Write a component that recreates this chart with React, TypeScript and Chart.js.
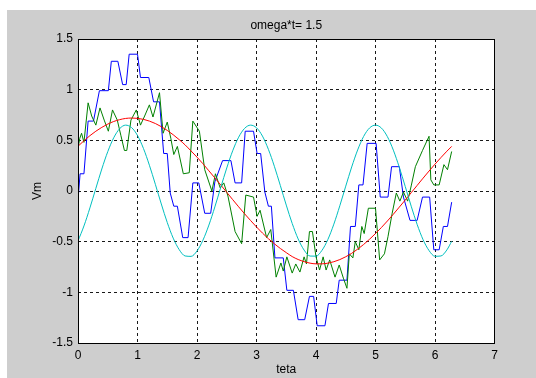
import React, { useEffect, useRef } from 'react';
import { Chart, registerables } from 'chart.js';

Chart.register(...registerables);

// ---- text ----
const titleText = 'omega*t= 1.5';
const xTitle = 'teta';
const yTitle = 'Vm';
const xTickValues = [0, 1, 2, 3, 4, 5, 6, 7];
const xTickLabels = ['0', '1', '2', '3', '4', '5', '6', '7'];
const yTickValues = [-1.5, -1, -0.5, 0, 0.5, 1, 1.5];
const yTickLabels = ['-1.5', '-1', '-0.5', '0', '0.5', '1', '1.5'];

// ---- smooth curves (theta grid) ----
const thetaFine = [
  0, 0.1, 0.2, 0.3, 0.4, 0.5, 0.6, 0.7, 0.8, 0.9,
  1.0, 1.1, 1.2, 1.3, 1.4, 1.5, 1.6, 1.7, 1.8, 1.9,
  2.0, 2.1, 2.2, 2.3, 2.4, 2.5, 2.6, 2.7, 2.8, 2.9,
  3.0, 3.1, 3.2, 3.3, 3.4, 3.5, 3.6, 3.7, 3.8, 3.9,
  4.0, 4.1, 4.2, 4.3, 4.4, 4.5, 4.6, 4.7, 4.8, 4.9,
  5.0, 5.1, 5.2, 5.3, 5.4, 5.5, 5.6, 5.7, 5.8, 5.9,
  6.0, 6.1, 6.2, 6.28,
];
const redV = [
  0.441, 0.496, 0.546, 0.590, 0.628, 0.660, 0.686, 0.704, 0.716, 0.720,
  0.717, 0.707, 0.690, 0.666, 0.635, 0.598, 0.555, 0.507, 0.455, 0.395,
  0.334, 0.269, 0.199, 0.129, 0.059, -0.013, -0.085, -0.156, -0.225, -0.291,
  -0.355, -0.415, -0.471, -0.521, -0.567, -0.608, -0.647, -0.676, -0.697, -0.712,
  -0.719, -0.719, -0.712, -0.698, -0.677, -0.649, -0.615, -0.574, -0.528, -0.476,
  -0.420, -0.360, -0.296, -0.229, -0.159, -0.089, -0.017, 0.055, 0.127, 0.197,
  0.265, 0.330, 0.393, 0.440,
];
const cyanV = [
  -0.493, -0.345, -0.167, 0.026, 0.217, 0.388, 0.525, 0.615, 0.650, 0.626,
  0.548, 0.420, 0.254, 0.066, -0.128, -0.311, -0.465, -0.578, -0.641, -0.645,
  -0.592, -0.485, -0.336, -0.157, 0.037, 0.227, 0.397, 0.531, 0.618, 0.650,
  0.624, 0.542, 0.411, 0.244, 0.055, -0.139, -0.320, -0.473, -0.583, -0.642,
  -0.643, -0.586, -0.478, -0.327, -0.146, 0.048, 0.237, 0.405, 0.538, 0.622,
  0.650, 0.621, 0.536, 0.403, 0.234, 0.044, -0.150, -0.330, -0.481, -0.588,
  -0.644, -0.641, -0.581, -0.497,
];

// ---- stepped blue curve ----
const blueTheta = [
  0, 0.035, 0.10, 0.17, 0.26, 0.36, 0.51, 0.56, 0.67, 0.75,
  0.81, 0.86, 1.00, 1.05, 1.19, 1.27, 1.37, 1.44, 1.50, 1.55,
  1.61, 1.67, 1.76, 1.85, 1.93, 2.03, 2.13, 2.23, 2.30, 2.43,
  2.57, 2.64, 2.75, 2.81, 2.95, 3.01, 3.07, 3.14, 3.20, 3.25,
  3.31, 3.45, 3.51, 3.62, 3.70, 3.81, 3.89, 3.96, 4.02, 4.15,
  4.21, 4.34, 4.39, 4.52, 4.58, 4.66, 4.72, 4.79, 4.86, 5.01,
  5.08, 5.21, 5.27, 5.40, 5.47, 5.58, 5.70, 5.79, 5.91, 5.98,
  6.07, 6.14, 6.21, 6.28,
];
const blueV = [
  -0.09, 0.17, 0.17, 0.69, 0.69, 0.99, 0.99, 1.28, 1.28, 1.05,
  1.05, 1.35, 1.35, 1.12, 1.12, 0.88, 0.88, 0.37, 0.37, -0.02,
  -0.15, -0.15, -0.46, -0.46, 0.08, 0.08, -0.22, -0.22, 0.09, 0.30,
  0.30, 0.08, 0.08, 0.59, 0.59, 0.37, 0.37, -0.01, -0.15, -0.15,
  -0.66, -0.66, -0.98, -0.98, -1.27, -1.27, -1.04, -1.04, -1.33, -1.33,
  -1.11, -1.11, -0.88, -0.88, -0.35, -0.35, 0.06, 0.06, 0.47, 0.47,
  -0.06, -0.06, 0.24, 0.24, -0.06, -0.29, -0.29, -0.06, -0.06, -0.58,
  -0.58, -0.35, -0.35, -0.11,
];

// ---- noisy green curve ----
const greenTheta = [
  0, 0.03, 0.06, 0.10, 0.17, 0.23, 0.30, 0.37, 0.44, 0.51,
  0.58, 0.66, 0.72, 0.78, 0.82, 0.89, 0.98, 1.05, 1.12, 1.20,
  1.26, 1.37, 1.43, 1.50, 1.56, 1.61, 1.67, 1.77, 1.87, 1.93,
  2.04, 2.13, 2.25, 2.31, 2.39, 2.45, 2.52, 2.64, 2.75, 2.82,
  2.95, 3.01, 3.06, 3.17, 3.24, 3.33, 3.41, 3.45, 3.51, 3.60,
  3.66, 3.73, 3.80, 3.84, 3.89, 3.94, 4.00, 4.06, 4.12, 4.17,
  4.23, 4.32, 4.39, 4.46, 4.52, 4.56, 4.62, 4.66, 4.72, 4.77,
  4.81, 4.88, 5.00, 5.07, 5.15, 5.21, 5.28, 5.35, 5.41, 5.47,
  5.54, 5.60, 5.67, 5.79, 5.90, 5.93, 5.98, 6.07, 6.15, 6.21,
  6.28,
];
const greenV = [
  0.42, 0.52, 0.57, 0.48, 0.87, 0.74, 0.65, 0.82, 0.70, 0.59,
  0.80, 0.70, 0.55, 0.40, 0.40, 0.70, 0.80, 0.65, 0.74, 0.85,
  0.73, 0.97, 0.57, 0.68, 0.52, 0.36, 0.44, 0.17, 0.18, 0.69,
  0.59, 0.21, 0.00, 0.17, 0.03, 0.08, -0.05, -0.40, -0.52, -0.04,
  -0.06, -0.25, -0.19, -0.46, -0.38, -0.85, -0.71, -0.79, -0.65, -0.81,
  -0.72, -0.80, -0.65, -0.72, -0.40, -0.40, -0.65, -0.78, -0.65, -0.78,
  -0.68, -0.85, -0.73, -0.86, -0.96, -0.62, -0.66, -0.50, -0.58, -0.35,
  -0.42, -0.17, -0.17, -0.68, -0.62, -0.45, -0.22, -0.02, -0.10, -0.01,
  -0.10, 0.05, 0.24, 0.40, 0.54, 0.11, 0.06, 0.06, 0.26, 0.21,
  0.39,
];

const FONT = '"Liberation Sans", Arial, Helvetica, sans-serif';
const W = 529;
const H = 368;

const pts = (xs: number[], ys: number[]) => xs.map((x, i) => ({ x, y: ys[i] }));
const align = (p: number) => Math.round(p - 0.5) + 0.5;

const framePlugin = {
  id: 'frame',
  beforeDraw(chart: any) {
    const { ctx, chartArea: a } = chart;
    ctx.save();
    ctx.fillStyle = '#ffffff';
    ctx.fillRect(a.left, a.top, a.right - a.left, a.bottom - a.top);
    ctx.restore();
  },
  afterDraw(chart: any) {
    const { ctx, chartArea: a } = chart;
    ctx.save();
    ctx.strokeStyle = '#000000';
    ctx.lineWidth = 1;
    ctx.setLineDash([]);
    const l = align(a.left), r = align(a.right), t = align(a.top), b = align(a.bottom);
    ctx.strokeRect(l, t, r - l, b - t);
    ctx.restore();
  },
};

export default function App() {
  const ref = useRef<HTMLCanvasElement>(null);
  useEffect(() => {
    const canvas = ref.current;
    if (!canvas) return;
    const edge = (min: number, max: number) => (ctx: any) => {
      const v = ctx.tick ? ctx.tick.value : NaN;
      return Math.abs(v - min) < 1e-9 || Math.abs(v - max) < 1e-9 ? 'rgba(0,0,0,0)' : 'rgba(0,0,0,0.9)';
    };
    const line = (label: string, data: any[], color: string, order: number, smooth: boolean) => ({
      label,
      data,
      borderColor: color,
      backgroundColor: color,
      borderWidth: 1,
      pointRadius: 0,
      fill: false,
      order,
      tension: 0,
      cubicInterpolationMode: smooth ? 'monotone' : 'default',
    });
    const chart = new Chart(canvas, {
      type: 'line',
      data: {
        datasets: [
          line('blue', pts(blueTheta, blueV), '#0000ff', 4, false),
          line('green', pts(greenTheta, greenV), '#008000', 3, false),
          line('red', pts(thetaFine, redV), '#ff0000', 2, true),
          line('cyan', pts(thetaFine, cyanV), '#00bfbf', 1, true),
        ] as any,
      },
      options: {
        responsive: false,
        animation: false,
        devicePixelRatio: 1,
        layout: { padding: { left: 0, right: 41.5, top: 0, bottom: 0 } },
        plugins: {
          legend: { display: false },
          tooltip: { enabled: false },
          title: {
            display: true,
            fullSize: false,
            text: titleText,
            color: '#000',
            font: { family: FONT, size: 12, weight: 'normal' as any },
            padding: { top: 8.5, bottom: 6.1 },
          },
        },
        scales: {
          x: {
            type: 'linear',
            position: 'bottom',
            min: 0,
            max: 7,
            afterBuildTicks: (s: any) => { s.ticks = xTickValues.map((v) => ({ value: v })); },
            afterFit: (s: any) => { s.height = 35; },
            ticks: {
              color: '#000',
              font: { family: FONT, size: 12 },
              padding: 5.5,
              maxRotation: 0,
              autoSkip: false,
              callback: (v: any) => {
                const i = xTickValues.findIndex((t) => Math.abs(t - v) < 1e-9);
                return i >= 0 ? xTickLabels[i] : '';
              },
            },
            grid: { color: edge(0, 7), lineWidth: 1, drawTicks: false },
            border: { display: false, dash: [3, 3] },
            title: {
              display: true,
              text: xTitle,
              color: '#000',
              font: { family: FONT, size: 12 },
              padding: { top: 0, bottom: 1 },
            },
          },
          y: {
            type: 'linear',
            position: 'left',
            min: -1.5,
            max: 1.5,
            afterBuildTicks: (s: any) => { s.ticks = yTickValues.map((v) => ({ value: v })); },
            afterFit: (s: any) => { s.width = 71; },
            ticks: {
              color: '#000',
              font: { family: FONT, size: 12 },
              padding: 5,
              autoSkip: false,
              callback: (v: any) => {
                const i = yTickValues.findIndex((t) => Math.abs(t - v) < 1e-9);
                return i >= 0 ? yTickLabels[i] : '';
              },
            },
            grid: { color: edge(-1.5, 1.5), lineWidth: 1, drawTicks: false },
            border: { display: false, dash: [3, 3] },
            title: {
              display: true,
              text: yTitle,
              color: '#000',
              font: { family: FONT, size: 12 },
              padding: { top: 23.8, bottom: 0 },
            },
          },
        },
      } as any,
      plugins: [framePlugin],
    });
    return () => chart.destroy();
  }, []);

  return (
    <div
      style={{
        position: 'absolute',
        left: 7,
        top: 10,
        width: W,
        height: H,
        background: '#cecece',
      }}
    >
      <canvas ref={ref} width={W} height={H} style={{ display: 'block', width: W, height: H }} />
    </div>
  );
}
